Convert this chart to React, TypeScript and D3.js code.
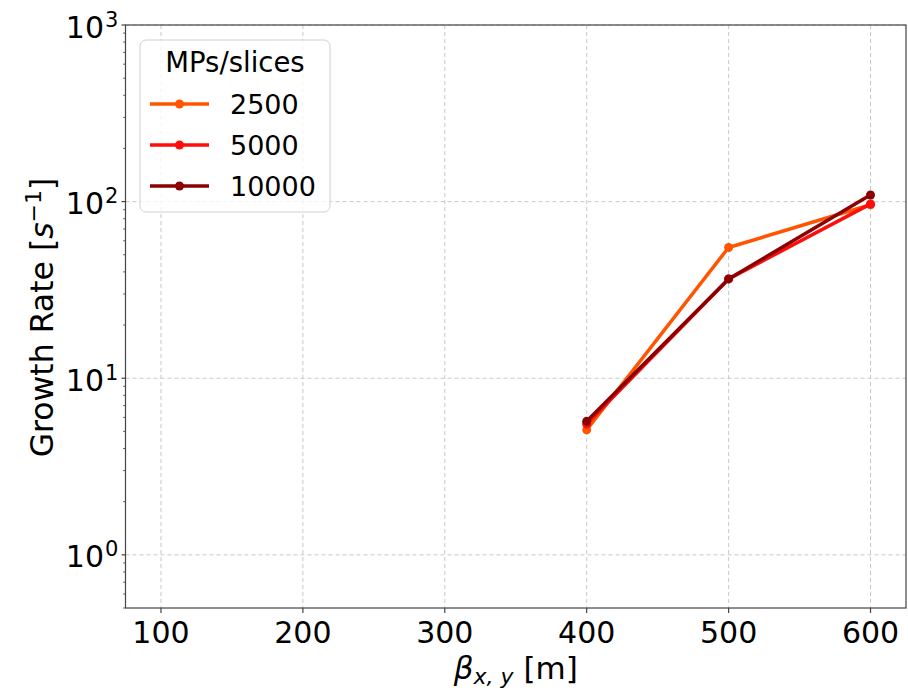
import React from "react";
import * as d3 from "d3";

const betaValues = [400, 500, 600];
const seriesNames = ["2500", "5000", "10000"];
const series2500 = [5.1, 55, 96];
const series5000 = [5.5, 36.5, 97];
const series10000 = [5.7, 36.5, 109];
const seriesColors = ["#ff5500", "#ff0d0d", "#8b0000"];
const xTicks = [100, 200, 300, 400, 500, 600];
const yTickExps = [0, 1, 2, 3];

const W = 908;
const H = 693;
const L = 125.5, R = 906, T = 25, B = 608;
const FONT = "DejaVu Sans";

export default function App() {
  const x = d3.scaleLinear().domain([75, 625]).range([L, R]);
  const y = d3.scaleLog().domain([0.5, 1000]).range([B, T]);
  const allSeries = [series2500, series5000, series10000];
  const line = d3
    .line<number>()
    .x((_, i) => x(betaValues[i]))
    .y((v) => y(v));

  const minor: number[] = [];
  for (let e = -1; e <= 2; e++) {
    for (let m = 2; m <= 9; m++) {
      const v = m * Math.pow(10, e);
      if (v >= 0.5 && v <= 1000) minor.push(v);
    }
  }

  return (
    <svg width={W} height={H} style={{ position: "absolute", left: 0, top: 0 }} fontFamily={FONT}>
      <rect x={0} y={0} width={W} height={H} fill="#fff" />
      {/* grid */}
      {xTicks.map((t) => (
        <line key={"gx" + t} x1={x(t)} x2={x(t)} y1={T} y2={B} stroke="#c8c8c8" strokeWidth={1} strokeDasharray="4,3" />
      ))}
      {yTickExps.map((e) => (
        <line key={"gy" + e} x1={L} x2={R} y1={y(Math.pow(10, e))} y2={y(Math.pow(10, e))} stroke="#c8c8c8" strokeWidth={1} strokeDasharray="4,3" />
      ))}
      {/* series */}
      {allSeries.map((s, si) => (
        <g key={"s" + si}>
          <path d={line(s) || ""} fill="none" stroke={seriesColors[si]} strokeWidth={3.5} strokeLinejoin="round" strokeLinecap="square" />
          {s.map((v, i) => (
            <circle key={i} cx={x(betaValues[i])} cy={y(v)} r={4.5} fill={seriesColors[si]} />
          ))}
        </g>
      ))}
      {/* spines */}
      <rect x={L} y={T} width={R - L} height={B - T} fill="none" stroke="#444" strokeWidth={1.2} />
      {/* x ticks */}
      {xTicks.map((t) => (
        <g key={"xt" + t}>
          <line x1={x(t)} x2={x(t)} y1={B} y2={B + 5} stroke="#444" strokeWidth={1.2} />
          <text x={x(t)} y={643} fontSize={30} textAnchor="middle" fill="#000">{t}</text>
        </g>
      ))}
      {/* y ticks */}
      {yTickExps.map((e) => {
        const yy = y(Math.pow(10, e));
        return (
          <g key={"yt" + e}>
            <line x1={L - 4} x2={L} y1={yy} y2={yy} stroke="#444" strokeWidth={1.2} />
            <text x={104} y={yy + 12.5} fontSize={30} textAnchor="end" fill="#000">10</text>
            <text x={105} y={yy + 1.5} fontSize={21} textAnchor="start" fill="#000">{e}</text>
          </g>
        );
      })}
      {minor.map((v, i) => (
        <line key={"mn" + i} x1={L - 2.5} x2={L} y1={y(v)} y2={y(v)} stroke="#444" strokeWidth={0.8} />
      ))}
      {/* axis labels */}
      <text transform={`translate(${(L + R) / 2},679)`} fontSize={31} textAnchor="middle" fill="#000">
        <tspan fontStyle="italic">β</tspan>
        <tspan fontStyle="italic" fontSize={22} dy={5}>x, y</tspan>
        <tspan dy={-5}> [m]</tspan>
      </text>
      <text transform={`translate(53,${(T + B) / 2 + 1}) rotate(-90)`} fontSize={31.5} textAnchor="middle" fill="#000">
        <tspan>Growth Rate [</tspan>
        <tspan fontStyle="italic">s</tspan>
        <tspan fontSize={22} dy={-12}>−1</tspan>
        <tspan dy={12}>]</tspan>
      </text>
      {/* legend */}
      <rect x={140} y={40} width={190} height={172} rx={6} fill="#fff" fillOpacity={0.8} stroke="#d0d0d0" strokeWidth={1} />
      <text x={235} y={72} fontSize={27.5} textAnchor="middle" fill="#000">MPs/slices</text>
      {seriesNames.map((n, i) => {
        const ly = 104 + i * 41;
        return (
          <g key={"lg" + n}>
            <line x1={150} x2={209} y1={ly} y2={ly} stroke={seriesColors[i]} strokeWidth={3.5} />
            <circle cx={179.5} cy={ly} r={4.5} fill={seriesColors[i]} />
            <text x={230} y={ly + 10} fontSize={27} fill="#000">{n}</text>
          </g>
        );
      })}
    </svg>
  );
}
